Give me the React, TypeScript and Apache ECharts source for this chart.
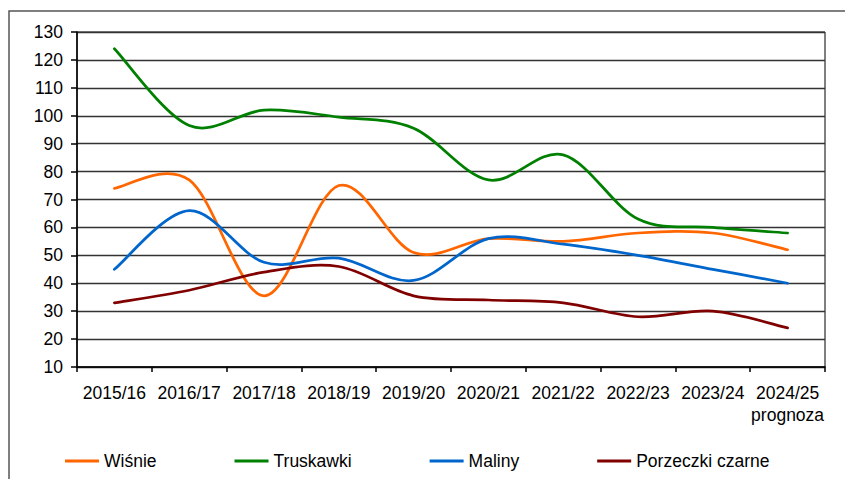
import React, { useEffect, useRef } from "react";
import * as echarts from "echarts";

const categories = [
  "2015/16", "2016/17", "2017/18", "2018/19", "2019/20",
  "2020/21", "2021/22", "2022/23", "2023/24", "2024/25\nprognoza",
];
const wisnie = [74, 77, 35.5, 75, 51, 56, 55, 58, 58, 52];
const truskawki = [124, 96.5, 102, 99.5, 95.5, 77, 86, 63, 60, 58];
const maliny = [45, 66, 47.5, 49, 41, 56, 54, 50, 45, 40];
const porzeczki = [33, 37.5, 44, 46, 35.5, 34, 33, 28, 30, 24];

const FONT = "'Liberation Sans', Arial, sans-serif";

function smoothSeries(name: string, values: number[], color: string) {
  return {
    name,
    type: "custom",
    coordinateSystem: "cartesian2d",
    data: values.map((v, i) => [i, v]),
    encode: { x: 0, y: 1 },
    itemStyle: { color },
    clip: false,
    renderItem: (params: any, api: any) => {
      if (params.dataIndex !== 0) return null;
      const pts = values.map((v, i) => api.coord([i, v]));
      const n = pts.length;
      let d = `M${pts[0][0]},${pts[0][1]}`;
      for (let i = 0; i < n - 1; i++) {
        const p0 = pts[Math.max(0, i - 1)];
        const p1 = pts[i];
        const p2 = pts[i + 1];
        const p3 = pts[Math.min(n - 1, i + 2)];
        const c1x = p1[0] + (p2[0] - p0[0]) / 6;
        const c1y = p1[1] + (p2[1] - p0[1]) / 6;
        const c2x = p2[0] - (p3[0] - p1[0]) / 6;
        const c2y = p2[1] - (p3[1] - p1[1]) / 6;
        d += ` C${c1x},${c1y} ${c2x},${c2y} ${p2[0]},${p2[1]}`;
      }
      return {
        type: "path",
        shape: { pathData: d },
        style: { fill: "none", stroke: color, lineWidth: 2.75, lineCap: "round", lineJoin: "round" },
        silent: true,
      };
    },
  };
}

export default function App() {
  const ref = useRef<HTMLDivElement>(null);
  useEffect(() => {
    if (!ref.current) return;
    const chart = echarts.init(ref.current, undefined, { renderer: "svg" });
    chart.setOption({
      animation: false,
      backgroundColor: "#fff",
      textStyle: { fontFamily: FONT },
      graphic: [
        {
          type: "rect",
          shape: { x: 9, y: 11, width: 900, height: 600 },
          style: { fill: "none", stroke: "#555", lineWidth: 1.5 },
          silent: true,
        },
      ],
      grid: {
        left: 77,
        right: 20,
        top: 32,
        bottom: 112,
        show: true,
        borderColor: "#000",
        borderWidth: 1,
        backgroundColor: "transparent",
      },
      legend: {
        left: 60,
        top: 447,
        icon: "rect",
        itemWidth: 34,
        itemHeight: 3,
        itemGap: 78,
        textStyle: { fontSize: 17.5, color: "#000", fontFamily: FONT },
        data: ["Wiśnie", "Truskawki", "Maliny", "Porzeczki czarne"],
      },
      xAxis: {
        type: "category",
        data: categories,
        boundaryGap: true,
        axisLine: { lineStyle: { color: "#000", width: 1.5 } },
        axisTick: { show: true, length: 5, lineStyle: { color: "#000", width: 1.5 } },
        axisLabel: {
          interval: 0,
          color: "#000",
          fontSize: 17.5,
          lineHeight: 22,
          margin: 15,
          fontFamily: FONT,
        },
        splitLine: { show: false },
      },
      yAxis: {
        type: "value",
        min: 10,
        max: 130,
        interval: 10,
        axisLine: { show: true, lineStyle: { color: "#000", width: 1.5 } },
        axisTick: { show: true, length: 6, lineStyle: { color: "#000", width: 1.5 } },
        axisLabel: { color: "#000", fontSize: 17.5, margin: 14, fontFamily: FONT },
        splitLine: { show: true, lineStyle: { color: "#333", width: 1.3 } },
      },
      series: [
        smoothSeries("Wiśnie", wisnie, "#FF6600"),
        smoothSeries("Truskawki", truskawki, "#008000"),
        smoothSeries("Maliny", maliny, "#0066CC"),
        smoothSeries("Porzeczki czarne", porzeczki, "#800000"),
      ],
    });
    return () => chart.dispose();
  }, []);
  return (
    <div
      ref={ref}
      style={{ position: "fixed", left: 0, top: 0, width: 845, height: 479, background: "#fff" }}
    />
  );
}
